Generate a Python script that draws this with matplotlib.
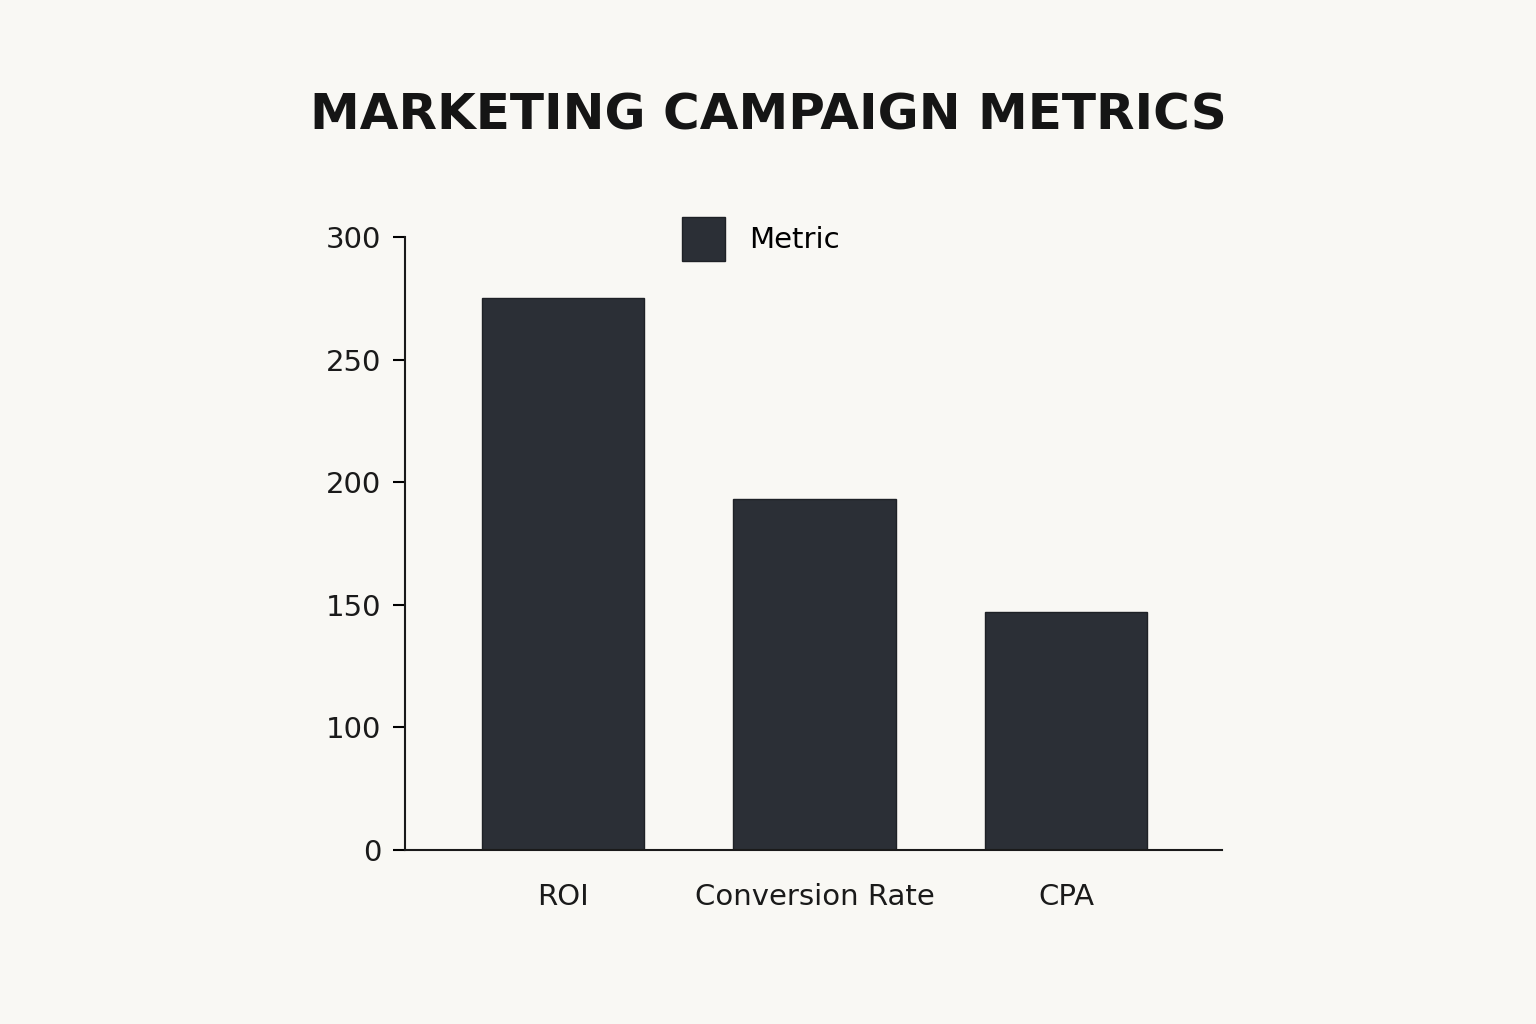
import numpy as np
import matplotlib
matplotlib.use("Agg")
import matplotlib.pyplot as plt

categories = ["ROI", "Conversion Rate", "CPA"]
values = [275, 193, 147]
y_ticks = [0, 100, 150, 200, 250, 300]

bg = "#f9f8f4"
bar_color = "#2b2f36"

# the axis in the picture squeezes 0-100 into the same room as one 50 step
def fwd(v):
    v = np.asarray(v, dtype=float)
    return np.where(v <= 100, v / 2.0, v - 50.0)

def inv(p):
    p = np.asarray(p, dtype=float)
    return np.where(p <= 50, p * 2.0, p + 50.0)

plt.rcParams["font.family"] = "DejaVu Sans"
fig = plt.figure(figsize=(15.36, 10.24), dpi=100, facecolor=bg)
ax = fig.add_axes([0.2637, 0.1699, 0.532, 0.5986], facecolor=bg)
ax.set_yscale("function", functions=(fwd, inv))

x = np.arange(len(categories))
ax.bar(x, values, width=0.645, color=bar_color, label="Metric",
       edgecolor="#1e2126", linewidth=1)

ax.set_xlim(-0.628, 2.62)
ax.set_ylim(0, 300)
ax.set_yticks(y_ticks)
ax.set_yticklabels([str(t) for t in y_ticks], fontsize=21, color="#1a1a1a")
ax.set_xticks(x)
ax.set_xticklabels(categories, fontsize=21, color="#1a1a1a")
ax.tick_params(axis="x", length=0, pad=24)
ax.tick_params(axis="y", length=9, width=1.5, pad=8)
for s in ["top", "right"]:
    ax.spines[s].set_visible(False)
for s in ["left", "bottom"]:
    ax.spines[s].set_linewidth(1.5)
    ax.spines[s].set_color("#1a1a1a")

ax.legend(loc="upper center", bbox_to_anchor=(0.435, 1.075), frameon=False,
          fontsize=21, handlelength=1.5, handleheight=1.9, handletextpad=0.8)

fig.text(0.5, 0.887, "MARKETING CAMPAIGN METRICS", ha="center", va="center",
         fontsize=36, fontweight="bold", color="#151515")

fig.savefig("out.png", dpi=100, facecolor=bg)
